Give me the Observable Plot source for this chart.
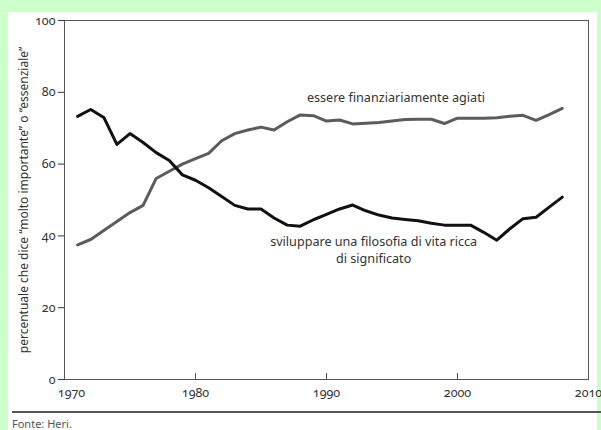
<!DOCTYPE html>
<html>
<head>
<meta charset="utf-8">
<script src="https://cdn.jsdelivr.net/npm/d3@7"></script>
<script src="https://cdn.jsdelivr.net/npm/@observablehq/plot@0.6"></script>
<style>
  html, body { margin: 0; padding: 0; }
  body { width: 601px; height: 430px; background: #ccffcc; position: relative; overflow: hidden;
         font-family: "Noto Sans", "Open Sans", sans-serif; }
  #panel { position: absolute; left: 8px; top: 12px; width: 589px; height: 418px; background: #fff; }
  #chart { position: absolute; left: 0; top: 0; }
  #rule { position: absolute; left: 12px; top: 411px; width: 589px; height: 1.5px; background: #555; }
  #source { position: absolute; left: 12px; top: 416px; font-size: 11px; color: #555; }
  svg text { font-variant-numeric: oldstyle-nums; }
</style>
</head>
<body>
<div id="panel"></div>
<div id="chart"></div>
<div id="rule"></div>
<div id="source">Fonte: Heri.</div>
<script>
const years = [1971,1972,1973,1974,1975,1976,1977,1978,1979,1980,1981,1982,1983,1984,1985,1986,1987,1988,1989,
  1990,1991,1992,1993,1994,1995,1996,1997,1998,1999,2000,2001,2002,2003,2004,2005,2006,2007,2008];
const finanziari = [37.5,39,41.5,44,46.5,48.5,56,58,60,61.5,63,66.5,68.5,69.5,70.3,69.5,71.8,73.7,73.5,
  72,72.3,71.2,71.4,71.6,72,72.4,72.5,72.5,71.3,72.8,72.8,72.8,72.9,73.3,73.6,72.2,73.8,75.5];
const filosofia = [73.3,75.2,73,65.5,68.5,66,63.2,61,57,55.5,53.4,51,48.5,47.5,47.5,45,43,42.7,44.5,
  46,47.5,48.6,47,45.8,45,44.6,44.2,43.5,43,43,43,41,38.8,42,44.8,45.2,48,50.8];
const seriesNames = ["essere finanziariamente agiati", "sviluppare una filosofia di vita ricca", "di significato"];
const xTicks = [1970,1980,1990,2000,2010];
const yTicks = [0,20,40,60,80,100];
const yLabel = "percentuale che dice \u201cmolto importante\u201d o \u201cessenziale\u201d";
const labelPos = [{x: 1995.3, y: 78.3}, {x: 1993.6, y: 38.4}, {x: 1993.6, y: 33.5}];

const rowsA = years.map((yr, i) => ({year: yr, value: finanziari[i]}));
const rowsB = years.map((yr, i) => ({year: yr, value: filosofia[i]}));
const labels = seriesNames.map((t, i) => ({text: t, ...labelPos[i]}));

const plot = Plot.plot({
  width: 601,
  height: 410,
  marginLeft: 64,
  marginRight: 13,
  marginTop: 20,
  marginBottom: 31,
  style: {background: "transparent", fontFamily: "'Noto Sans', 'Open Sans', sans-serif", fontSize: "12px", color: "#333"},
  x: {domain: [1970, 2010]},
  y: {domain: [0, 100]},
  marks: [
    Plot.frame({stroke: "#555", strokeWidth: 1}),
    Plot.axisY({ticks: yTicks, tickSize: 6, tickPadding: 3, label: null, tickFormat: d => String(d), fontSize: 12.5}),
    Plot.axisX({ticks: xTicks.slice(0, 1), tickSize: 0, tickPadding: 9, dx: 7, label: null, tickFormat: d => String(d), fontSize: 12.5}),
    Plot.axisX({ticks: xTicks.slice(1), tickSize: 0, tickPadding: 9, label: null, tickFormat: d => String(d), fontSize: 12.5}),
    Plot.tickX(xTicks, {x: d => d, stroke: "#555", insetTop: 353}),
    Plot.text([yLabel], {text: d => d, frameAnchor: "left", textAnchor: "middle", rotate: -90, dx: -40, fontSize: 12, fill: "#333"}),
    Plot.line(rowsA, {x: "year", y: "value", stroke: "#5c5c5c", strokeWidth: 3, curve: "linear"}),
    Plot.line(rowsB, {x: "year", y: "value", stroke: "#111", strokeWidth: 3, curve: "linear"}),
    Plot.text(labels, {x: "x", y: "y", text: "text", fontSize: 12.6, fill: "#333", textAnchor: "middle"})
  ]
});
document.getElementById("chart").appendChild(plot);
</script>
</body>
</html>
